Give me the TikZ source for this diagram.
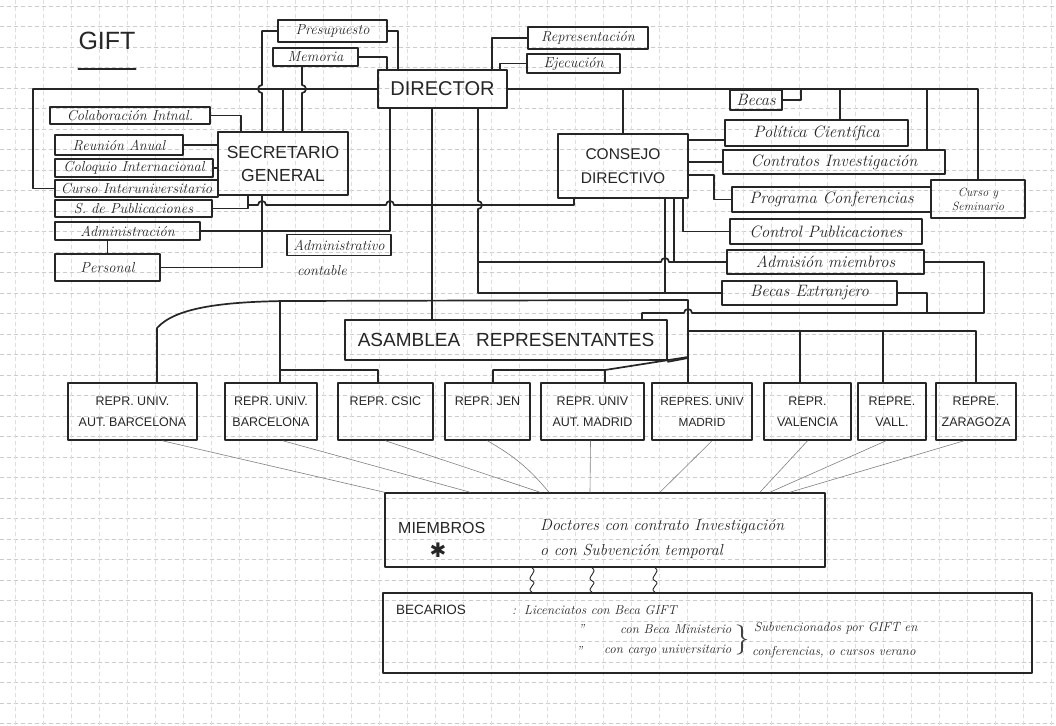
\documentclass[tikz,border=0pt]{standalone}
\usepackage{fontspec}
\newfontfamily\capsf{Liberation Sans}
\newfontfamily\symf{DejaVu Sans}
\begin{document}
\begin{tikzpicture}[x=1pt,y=-1pt,
  line join=round, line cap=round,
  conn/.style={draw=black!85, line width=1.7pt},
  faintln/.style={draw=black!50, line width=0.6pt},
  gridh/.style={draw=black!20, line width=0.4pt, dash pattern=on 4pt off 3pt},
  gridv/.style={draw=black!13, line width=0.4pt, dash pattern=on 4pt off 3pt},
  cur/.style={font=\fontsize{14.5}{17}\selectfont\itshape, text=black!85},
  cbox/.style={draw=black!85, line width=1.5pt, inner sep=1pt, cur},
  rbox/.style={cbox, font=\fontsize{16.5}{19}\selectfont\itshape},
  kbox/.style={draw=black!85, line width=1.6pt, align=center, text=black!85, inner sep=1pt},
  rep/.style={kbox, minimum height=57pt, font=\capsf\fontsize{12.5}{21}\selectfont},
  txt/.style={anchor=west, inner sep=0pt, text=black!85},
  btx/.style={font=\fontsize{13}{15}\selectfont\itshape},
]
\fill[white] (0,0) rectangle (1056,725);
\useasboundingbox (0,0) rectangle (1056,725);
% paper grid
\foreach \yy in {6,26.5,...,725} \draw[gridh] (0,\yy) -- (1056,\yy);
\foreach \xx in {15,43,...,1056} \draw[gridv] (\xx,0) -- (\xx,725);

% title
\node[font=\capsf\fontsize{25}{25}\selectfont, text=black!85, inner sep=0pt] (gift) at (107,41) {GIFT};
\draw[conn] ([yshift=-19pt]gift.south west) -- ([yshift=-19pt]gift.south east);

% top boxes
\node[cbox, minimum width=109pt, minimum height=22pt] (presup) at (332.5,31) {Presupuesto};
\node[cbox, minimum width=85pt, minimum height=18pt] (memoria) at (315.5,57) {Memoria};
\node[cbox, minimum width=120pt, minimum height=22pt] (repres) at (588,38) {Representación};
\node[cbox, minimum width=93pt, minimum height=19pt] (ejec) at (573.5,63.5) {Ejecución};
\node[kbox, font=\capsf\fontsize{20}{22}\selectfont, minimum width=129pt, minimum height=38pt] (director) at (442.5,89) {DIRECTOR};

% left column
\node[cbox, minimum width=160pt, minimum height=17pt] (colab) at (130,115.5) {Colaboración Intnal.};
\node[cbox, minimum width=128pt, minimum height=20pt] (reunion) at (119,145) {Reunión Anual};
\node[cbox, minimum width=158pt, minimum height=18pt] (coloquio) at (134,168) {Coloquio Internacional};
\node[cbox, minimum width=163pt, minimum height=17pt] (curso) at (136.5,188.5) {Curso Interuniversitario};
\node[cbox, minimum width=157pt, minimum height=17pt] (spubl) at (133.5,208.5) {S. de Publicaciones};
\node[cbox, minimum width=145pt, minimum height=18pt] (admin) at (127.5,231) {Administración};
\node[cbox, minimum width=105pt, minimum height=27pt] (personal) at (107.5,267.5) {Personal};
\node[kbox, font=\capsf\fontsize{17.5}{23}\selectfont, minimum width=130pt, minimum height=63pt] (sg) at (283,163.5) {SECRETARIO\\GENERAL};
\node[cbox, minimum width=104pt, minimum height=21pt] (admcont) at (339,245) {Administrativo};
\node[cur, inner sep=0pt] (contable) at (322,271) {contable};

% right column
\node[kbox, font=\capsf\fontsize{15.5}{24}\selectfont, minimum width=130pt, minimum height=64pt] (consejo) at (623,166) {CONSEJO\\DIRECTIVO};
\node[rbox, minimum width=52pt, minimum height=20pt] (becas) at (756,100) {Becas};
\node[rbox, minimum width=183pt, minimum height=26pt] (politica) at (816.5,133) {Política Científica};
\node[rbox, minimum width=222pt, minimum height=24pt] (contratos) at (834,162) {Contratos Investigación};
\node[rbox, minimum width=199pt, minimum height=25pt] (programa) at (831.5,199.5) {Programa Conferencias};
\node[cbox, font=\fontsize{12}{14}\selectfont\itshape, align=center, minimum width=94pt, minimum height=38pt] (cursosem) at (978,199) {Curso y\\Seminario};
\node[rbox, minimum width=192pt, minimum height=25pt] (controlp) at (826,231.5) {Control Publicaciones};
\node[rbox, minimum width=197pt, minimum height=24pt] (admision) at (825.5,262) {Admisión miembros};
\node[rbox, minimum width=175pt, minimum height=24pt] (becasext) at (809.5,293) {Becas Extranjero};

% assembly and representatives
\node[kbox, font=\capsf\fontsize{19}{21}\selectfont, minimum width=322pt, minimum height=40pt] (asamblea) at (506,340) {ASAMBLEA\hspace{16pt}REPRESENTANTES};
\node[rep, minimum width=129pt] (r1) at (132.5,411.5) {REPR. UNIV.\\AUT. BARCELONA};
\node[rep, minimum width=92pt] (r2) at (271,411.5) {REPR. UNIV.\\BARCELONA};
\node[rep, minimum width=95pt] (r3) at (385.5,411.5) {REPR. CSIC\\\mbox{}};
\node[rep, minimum width=85pt] (r4) at (487.5,411.5) {REPR. JEN\\\mbox{}};
\node[rep, minimum width=103pt] (r5) at (592.5,411.5) {REPR. UNIV\\AUT. MADRID};
\node[rep, minimum width=100pt, font=\capsf\fontsize{11.8}{21}\selectfont] (r6) at (702,411.5) {REPRES. UNIV\\MADRID};
\node[rep, minimum width=87pt] (r7) at (807.5,411.5) {REPR.\\VALENCIA};
\node[rep, minimum width=68pt] (r8) at (892,411.5) {REPRE.\\VALL.};
\node[rep, minimum width=80pt] (r9) at (976,411.5) {REPRE.\\ZARAGOZA};

% members
\node[kbox, minimum width=440pt, minimum height=74pt] (miembros) at (605,530) {};
\node[txt, font=\capsf\fontsize{16}{18}\selectfont] (mlabel) at (398,528) {MIEMBROS};
\node[font=\symf\fontsize{20}{20}\selectfont, text=black!85, inner sep=0pt] (mstar) at (438,550) {✱};
\node[txt, font=\fontsize{16}{18}\selectfont\itshape] (mtext1) at (540,527) {Doctores con contrato Investigación};
\node[txt, font=\fontsize{16}{18}\selectfont\itshape] (mtext2) at (540,551) {o con Subvención temporal};

% becarios
\node[kbox, minimum width=649pt, minimum height=80pt] (becarios) at (707.5,633) {};
\node[txt, font=\capsf\fontsize{13.5}{15}\selectfont] (blabel) at (396,610) {BECARIOS};
\node[txt, btx] (b1) at (512,610) {:\hspace{8pt}Licenciatos con Beca GIFT};
\node[txt, btx] (bd1) at (578,629) {''};
\node[txt, btx] (b2) at (620,629) {con Beca Ministerio};
\node[txt, btx] (bd2) at (576,651) {''};
\node[txt, btx] (b3) at (604,651) {con cargo universitario};
\node[font=\fontsize{30}{30}\selectfont, text=black!75, inner sep=0pt] (brace) at (742,640) {\}};
\node[txt, btx] (b4) at (754,628) {Subvencionados por GIFT en};
\node[txt, btx] (b5) at (752,652) {conferencias, o cursos verano};

% ---- connectors ----
% director left bus
\draw[conn] (director.west) -- (33,89) |- (curso.west);
\draw[conn] (sg.north |- director.west) -- (sg.north);
\draw[conn] (presup.west) -- (262,31) -- (262,85) arc[start angle=-90,end angle=-270,radius=4] -- ([xshift=-21pt]sg.north);
\draw[conn] ([xshift=-13.5pt]memoria.south) -- (302,85) arc[start angle=-90,end angle=90,radius=4] -- ([xshift=19pt]sg.north);
\draw[conn] (presup.east) -| ([xshift=-44.5pt]director.north);
\draw[conn] (memoria.east) -| ([xshift=-55.5pt]director.north);
\draw[conn] (repres.west) -| ([xshift=49.5pt]director.north);
\draw[conn] (ejec.west) -| ([xshift=57.5pt]director.north);

% director right bus
\draw[conn] (director.east) -| (cursosem.north);
\draw[conn] (consejo.north |- director.east) -- (consejo.north);
\coordinate (xb) at (801,0);
\draw[conn] (becas.east) -| (xb |- director.east);
\coordinate (pn) at ([xshift=23.5pt]politica.north);
\draw[conn] (pn |- director.east) -- (pn);
\coordinate (cn) at ([xshift=93pt]contratos.north);
\draw[conn] (cn |- director.east) -- (cn);

% consejo
\coordinate (ce1) at ([yshift=26pt]consejo.east);
\draw[conn] (ce1) -- (ce1 -| politica.west);
\draw[conn] ([yshift=4pt]consejo.east) -- (contratos.west);
\draw[conn] ([yshift=-9pt]consejo.east) -- (714,175) |- (programa.west);
\draw[conn] ([xshift=60pt]consejo.south) |- (controlp.west);
\draw[conn] ([xshift=51pt]consejo.south) |- (admision.west);
\draw[conn] ([xshift=42pt]consejo.south) |- (becasext.west);
\draw[conn] ([xshift=-49pt]consejo.south) -- (574,205) -- (394,205) arc[start angle=0,end angle=-180,radius=4] -- (266,205) arc[start angle=0,end angle=-180,radius=4] -- (248,205) -- ([xshift=-35pt]sg.south);

% secretario general
\draw[conn] (colab.east) -| ([xshift=-42pt]sg.north);
\draw[conn] (reunion.east) -- (reunion.east -| sg.west);
\draw[conn] (coloquio.east) -- (coloquio.east -| sg.west);
\draw[conn] (spubl.east) -| ([xshift=-35pt]sg.south);
\draw[conn] (personal.east) -| ([xshift=-21pt]sg.south);
\draw[conn] (admin.east) -| ([xshift=-52.5pt]director.south);
\draw[conn] (personal.north |- admin.south) -- (personal.north);

% director down
\draw[conn] ([xshift=35.5pt]director.south) -- (478,201) arc[start angle=-90,end angle=90,radius=4] |- (becasext.west);
\draw[conn] (478,262) -- (661,262) arc[start angle=180,end angle=360,radius=4] -- (admision.west);
\coordinate (d432) at ([xshift=-10.5pt]director.south);
\draw[conn] (d432) -- (d432 |- asamblea.north);

% representatives bus
\coordinate (r1n) at ([xshift=24.5pt]r1.north);
\coordinate (r2n) at ([xshift=9pt]r2.north);
\coordinate (r3n) at ([xshift=-7.5pt]r3.north);
\coordinate (r4n) at ([xshift=5.5pt]r4.north);
\coordinate (r5n) at ([xshift=12.5pt]r5.north);
\coordinate (r6n) at ([xshift=-14pt]r6.north);
\coordinate (r7n) at ([xshift=-7.5pt]r7.north);
\coordinate (r8n) at ([xshift=-9pt]r8.north);
\coordinate (rb) at (688,331);
\draw[conn] (r1n) -- (157,328) .. controls (175,308) and (220,302) .. (284,301) -- (688,300) -- (r6n);
\draw[conn] (r2n) -- (280,301);
\draw[conn] (280,370) -| (r3n);
\draw[conn] (rb) -| (r9.north);
\draw[conn] (r7n |- rb) -- (r7n);
\draw[conn] (r8n |- rb) -- (r8n);
\coordinate (an) at ([xshift=136pt]asamblea.north);
\draw[conn] (admision.east) -- (984,262) |- (692,313) arc[start angle=0,end angle=-180,radius=4] -| (an);
\draw[conn] (becasext.east) -- (927,293) -- (927,313);
\draw[conn] ([yshift=-1pt]asamblea.south east) -- (688,358);
\draw[conn] (688,357) -- (605,370) -| (r4n);
\draw[conn] (605,370) -- (r5n);

% faint lines to miembros
\draw[faintln] ([xshift=30pt]r1.south) -- (miembros.north west);
\draw[faintln] ([xshift=12pt]r2.south) -- ([xshift=-135pt]miembros.north);
\draw[faintln] (r3.south) -- ([xshift=-65pt]miembros.north);
\draw[faintln] (r4.south) to[bend left=10] ([xshift=-56pt]miembros.north);
\draw[faintln] ([xshift=-2pt]r5.south) -- ([xshift=-15pt]miembros.north);
\draw[faintln] ([xshift=10pt]r6.south) -- ([xshift=55pt]miembros.north);
\draw[faintln] (r7.south) -- ([xshift=155pt]miembros.north);
\draw[faintln] ([xshift=-6pt]r8.south) -- ([xshift=165pt]miembros.north);
\draw[faintln] ([xshift=-12pt]r9.south) -- ([xshift=185pt]miembros.north);

% squiggles miembros - becarios
\foreach \dx/\nm in {-73/m1,-13/m2,50/m3}{
  \coordinate (\nm) at ([xshift=\dx pt]miembros.south);
  \draw[draw=black!85, line width=0.9pt] (\nm) .. controls +(7,4) and +(-7,-3) .. ([yshift=-13pt]\nm) .. controls +(7,3) and +(-7,-4) .. (\nm |- becarios.north);
}
\end{tikzpicture}
\end{document}
